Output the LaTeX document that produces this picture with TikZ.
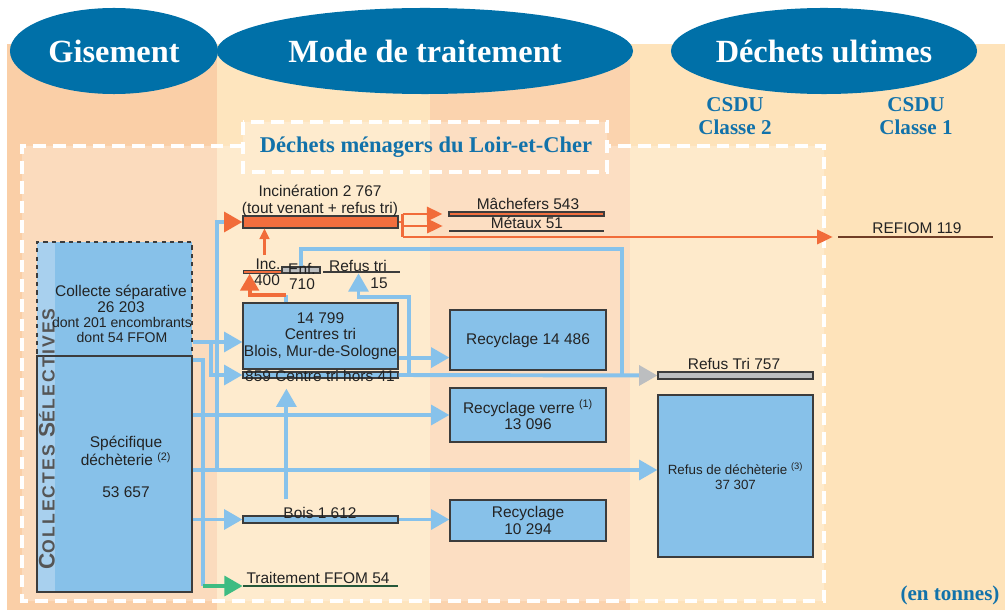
\documentclass[tikz,border=0pt]{standalone}
\usepackage{fontspec}
\setmainfont{Liberation Serif}
\setsansfont{Liberation Sans}
\newfontfamily\trackedsans[LetterSpace=12]{Liberation Sans}
\usepackage{tikz}
\usetikzlibrary{shapes.geometric, arrows.meta, calc}

\definecolor{ellblue}{RGB}{0,112,168}
\definecolor{headblue}{RGB}{18,114,170}
\definecolor{colpeach}{RGB}{250,207,167}
\definecolor{colcream}{RGB}{254,229,190}
\definecolor{colsalmon}{RGB}{251,211,174}
\definecolor{colsand}{RGB}{254,227,186}
\definecolor{boxblue}{RGB}{135,193,233}
\definecolor{stripblue}{RGB}{168,208,238}
\definecolor{flowblue}{RGB}{135,194,235}
\definecolor{flowor}{RGB}{241,108,58}
\definecolor{barfill}{RGB}{242,110,62}
\definecolor{tipgray}{RGB}{188,190,192}
\definecolor{flowgreen}{RGB}{62,188,130}
\definecolor{ffomgreen}{RGB}{38,88,58}
\definecolor{refiombrown}{RGB}{112,62,38}
\definecolor{edgegray}{RGB}{60,60,60}
\definecolor{txtgray}{RGB}{35,35,35}
\definecolor{stripgray}{RGB}{85,85,85}

\begin{document}
\begin{tikzpicture}[x=0.025cm, y=-0.025cm,
    ell/.style={ellipse, fill=ellblue, text=white, inner sep=0pt,
        minimum height=2.15cm, font=\bfseries\fontsize{23}{23}\selectfont},
    head/.style={text=headblue, align=center, inner sep=0pt,
        font=\bfseries\fontsize{15}{16.5}\selectfont},
    frame/.style={white, line width=2.4pt, dash pattern=on 9pt off 5pt},
    txt/.style={text=txtgray, align=center, inner sep=0pt,
        font=\sffamily\fontsize{11}{11.8}\selectfont},
    box/.style={txt, draw=edgegray, fill=boxblue, line width=0.8pt},
    bar/.style={draw=edgegray, line width=0.8pt, inner sep=0pt, minimum width=3.875cm},
    rule/.style={inner sep=0pt, minimum width=3.875cm},
    flow/.style={flowblue, line width=2.8pt},
    flowarr/.style={flow, -{Triangle[length=13pt,width=14pt]}},
    orflow/.style={flowor, line width=2pt},
    orarr/.style={orflow, -{Triangle[length=11pt,width=10pt]}},
    orthin/.style={flowor, line width=1.5pt, -{Triangle[length=7.5pt,width=7pt]}}]

    \useasboundingbox (0,0) rectangle (1005,610);

    % Columns in the background
    \fill[colpeach] (7,44) rectangle (217,610);
    \fill[colcream] (217,44) rectangle (430,610);
    \fill[colsalmon] (430,44) rectangle (630,610);
    \fill[colsand] (630,44) rectangle (1005,610);
    \fill[white, opacity=0.25] (22,146) -- (243,146) -- (243,122) -- (607,122)
        -- (607,146) -- (824,146) -- (824,601) -- (22,601) -- cycle;

    % Column heads
    \node[ell, minimum width=5.2cm] (gis) at (114,51) {Gisement};
    \node[ell, minimum width=10.4cm] (mode) at (425,51) {Mode de traitement};
    \node[ell, minimum width=6.5cm] (ult) at (824,51) {Déchets ultimes};
    \node[head] (csdu2) at (735,116) {CSDU\\Classe 2};
    \node[head] (csdu1) at (916,116) {CSDU\\Classe 1};

    % Dashed frames
    \draw[frame] (243,146) -| (22,601) -| (824,146) -- (607,146);
    \draw[frame] (243,122) rectangle (607,172);
    \node[head, font=\bfseries\fontsize{16}{18}\selectfont] (menag) at (426,147)
        {Déchets ménagers du Loir-et-Cher};
    \node[head] (unit) at (950,595) {(en tonnes)};

    % Collectes selectives
    \node[box, dashed, minimum width=3.875cm, minimum height=2.85cm,
        path picture={\fill[stripblue] (path picture bounding box.north west)
            rectangle ([xshift=0.45cm]path picture bounding box.south west);}]
        (colsep) at (114.5,299) {};
    \node[box, minimum width=3.875cm, minimum height=5.9cm,
        path picture={\fill[stripblue] (path picture bounding box.north west)
            rectangle ([xshift=0.45cm]path picture bounding box.south west);}]
        (colspec) at (114.5,474) {};
    \draw[edgegray, line width=0.8pt, dashed] (colsep.south west) -- (colsep.south east);
    \node[rotate=90, text=stripgray, inner sep=0pt,
        font=\trackedsans\bfseries\fontsize{12.5}{12.5}\selectfont] (collsel) at (47,439)
        {{\fontsize{16}{16}\selectfont C}OLLECTES {\fontsize{16}{16}\selectfont S}ÉLECTIVES};
    \node[txt] (colsepa) at (121,299) {Collecte séparative\\26 203};
    \node[txt, font=\sffamily\fontsize{10}{10.8}\selectfont] (colsepb) at (122,330)
        {dont 201 encombrants\\dont 54 FFOM};
    \node[txt] (colspeca) at (126,451) {Spécifique\\déchèterie \textsuperscript{(2)}};
    \node[txt] (colspecb) at (126,492) {53 657};

    % Treatment
    \node[bar, fill=barfill, minimum height=0.3cm] (incin) at (320.5,222) {};
    \node[txt] (incint) at (320,201) {Incinération 2 767\\(tout venant + refus tri)};
    \node[rule, draw=edgegray, line width=0.5pt, fill=barfill, minimum width=0.975cm,
        minimum height=0.07cm] (inc4) at (262.5,272) {};
    \node[bar, fill=tipgray, minimum width=0.95cm, minimum height=0.15cm] (enf) at (301,270) {};
    \node[rule, fill=edgegray, minimum width=1.925cm, minimum height=0.05cm] (rft) at (361.5,272) {};
    \node[txt] (inct) at (268,264) {Inc.};
    \node[txt] (incn) at (267,280) {400};
    \node[txt] (enft) at (302,269) {Enf.};
    \node[txt] (enfn) at (302,284) {710};
    \node[txt] (rftt) at (358,266) {Refus tri};
    \node[txt] (rftn) at (379,283) {15};
    \node[box, minimum width=3.875cm, minimum height=1.65cm] (cen) at (320.5,336)
        {14 799\\Centres tri\\Blois, Mur-de-Sologne};
    \node[bar, fill=boxblue, minimum height=0.15cm] (hors) at (320.5,375) {};
    \node[txt] (horst) at (320,376) {859 Centre tri hors 41};
    \node[bar, fill=boxblue, minimum height=0.175cm] (bois) at (320.5,519.5) {};
    \node[txt] (boist) at (320,513) {Bois 1 612};
    \node[rule, fill=ffomgreen, minimum height=0.06cm] (ffom) at (320.5,586) {};
    \node[txt] (ffomt) at (318,578) {Traitement FFOM 54};

    % Recycling
    \node[bar, fill=barfill, minimum height=0.1cm] (mach) at (526.5,214) {};
    \node[txt] (macht) at (528,204) {Mâchefers 543};
    \node[rule, fill=edgegray, minimum height=0.04cm] (met) at (526.5,231) {};
    \node[txt] (mett) at (527,223) {Métaux 51};
    \node[box, minimum width=3.9cm, minimum height=1.5cm] (rec1) at (528,340) {Recyclage 14 486};
    \node[box, minimum width=3.9cm, minimum height=1.35cm] (verre) at (528,415)
        {Recyclage verre \textsuperscript{(1)}\\13 096};
    \node[box, minimum width=3.9cm, minimum height=1.025cm] (rec2) at (528,520.5)
        {Recyclage\\10 294};

    % Final waste
    \node[rule, fill=refiombrown, minimum height=0.06cm] (refiom) at (915.5,237) {};
    \node[txt] (refiomt) at (917,228) {REFIOM 119};
    \node[bar, fill=tipgray, minimum height=0.175cm] (rt757) at (735.5,375.5) {};
    \node[txt] (rt757t) at (734,364) {Refus Tri 757};
    \node[box, minimum width=3.875cm, minimum height=4.05cm,
        font=\sffamily\fontsize{9.5}{10.5}\selectfont] (refd) at (735.5,476)
        {Refus de déchèterie \textsuperscript{(3)}\\37 307};

    % Flows from the collections
    \coordinate (ja) at (211,342);
    \coordinate (jb) at (217,470);
    \coordinate (jc) at (203,360);
    \draw[flowarr] (colsep.east |- ja) -- (cen.west |- ja);
    \draw[flowarr] (ja) |- (hors.west);
    \draw[flow] (colspec.east |- jc) -- (jc) -- (jc |- ffom.west);
    \draw[flowgreen, line width=2.8pt, -{Triangle[length=13pt,width=14pt]}]
        (jc |- ffom.west) -- (ffom.west);
    \draw[flowarr] (colspec.east |- verre.west) -- (verre.west);
    \draw[flowarr] (colspec.east |- jb) -- (refd.west |- jb);
    \draw[flow, -{Triangle[length=13pt,width=14pt,color=flowor]}] (jb) |- (incin.west);
    \draw[flowarr] (colspec.east |- bois.west) -- (bois.west);

    % Flows out of the treatment
    \coordinate (jr) at ($(cen.south east)+(0,-12)$);
    \draw[flowarr] (jr) -- (rec1.west |- jr);
    \draw[flowarr] (bois.east) -- (rec2.west |- bois.east);
    \draw[flowarr] ($(bois.north west)+(44,-16)$) -- ($(hors.south west)+(44,10)$);
    \draw[flow, -{Triangle[length=13pt,width=14pt,color=tipgray]}] (hors.east) -- (rt757.west);
    \coordinate (jd) at (409,297);
    \draw[flowarr] (jd |- hors.east) -- (jd) -| ($(rft.south)+(-3,0)$);
    \coordinate (je) at (622,249);
    \draw[flow] (enf.north) |- (je) -- (je |- hors.east);

    % Orange flows
    \coordinate (ji) at ($(inc4.north)+(2,-15)$);
    \draw[orthin] (ji) -- (ji |- incin.south);
    \coordinate (jg) at ($(cen.north west)+(44,-7)$);
    \draw[flow] ($(cen.north west)+(44,0)$) -- (jg);
    \draw[flowor, line width=2.8pt, -{Triangle[length=12pt,width=13pt]}]
        (jg) -| ($(inc4.south west)+(7,0)$);
    \coordinate (jf) at ($(incin.east)+(4,0)$);
    \draw[orflow] (incin.east) -- (jf);
    \draw[orflow] (jf |- mach.west) -- (jf |- refiom.west);
    \draw[orarr] (jf |- mach.west) -- ($(mach.west)+(-6,0)$);
    \draw[orarr] ($(jf |- met.west)+(0,-5)$) -- ($(met.west)+(-6,-5)$);
    \draw[orarr] (jf |- refiom.west) -- ($(refiom.west)+(-5,0)$);
\end{tikzpicture}
\end{document}
